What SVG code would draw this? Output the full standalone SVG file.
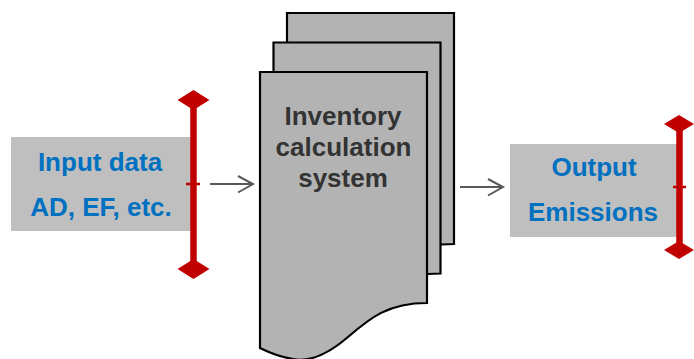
<svg xmlns="http://www.w3.org/2000/svg" width="694" height="359" viewBox="0 0 694 359">
<defs>
<style>
.box{fill:#bfbfbf;stroke:none}
.page{fill:#b3b3b3;stroke:#000;stroke-width:2.2;stroke-linejoin:miter}
.blue{font-family:"Liberation Sans",Arial,sans-serif;font-weight:bold;font-size:26px;fill:#0070c0;text-anchor:middle}
.dark{font-family:"Liberation Sans",Arial,sans-serif;font-weight:bold;font-size:26px;fill:#333333;text-anchor:middle}
.bar{stroke:#c00000;stroke-width:6.5;fill:none}
.dia{fill:#c00000;stroke:none}
.tick{stroke:#c00000;stroke-width:2.5}
.conn{stroke:#595959;stroke-width:2;fill:none}
</style>
<path id="doc" d="M0,0 H167 V231 C128,231 110,246 88,265 C66,284 48,290 33,287 C20,285 10,281 0,276 Z"/>
</defs>

<g id="input">
<rect class="box" x="11" y="137" width="182" height="94"/>
<text class="blue" x="100" y="171">Input data</text>
<text class="blue" x="101" y="216">AD, EF, etc.</text>
<path class="bar" d="M193.5,104 V265"/>
<polygon class="dia" points="193.5,90 209.5,100 193.5,110 177.5,100"/>
<polygon class="dia" points="193.5,259 209.5,269 193.5,279 177.5,269"/>
<line class="tick" x1="186" y1="184" x2="200" y2="184"/>
</g>

<g id="system">
<use href="#doc" class="page" x="287" y="13"/>
<use href="#doc" class="page" x="273.5" y="42.5"/>
<use href="#doc" class="page" x="260" y="72"/>
<text class="dark" x="343" y="125">Inventory</text>
<text class="dark" x="343.5" y="156">calculation</text>
<text class="dark" x="343" y="187">system</text>
</g>

<g id="output">
<rect class="box" x="510" y="144" width="170" height="93"/>
<text class="blue" x="594" y="176">Output</text>
<text class="blue" x="593" y="221">Emissions</text>
<path class="bar" d="M679.5,128 V246"/>
<polygon class="dia" points="679,115 694,124 679,133 664,124"/>
<polygon class="dia" points="679,241 694,250 679,259 664,250"/>
<line class="tick" x1="673" y1="187" x2="686" y2="187"/>
</g>

<g id="connectors">
<path class="conn" d="M210,184 H252.5"/>
<path class="conn" d="M238,176 L253,184 L238,192.5"/>
<path class="conn" d="M460,187 H502.5"/>
<path class="conn" d="M488,179 L503,187 L488,195.5"/>
</g>
</svg>
